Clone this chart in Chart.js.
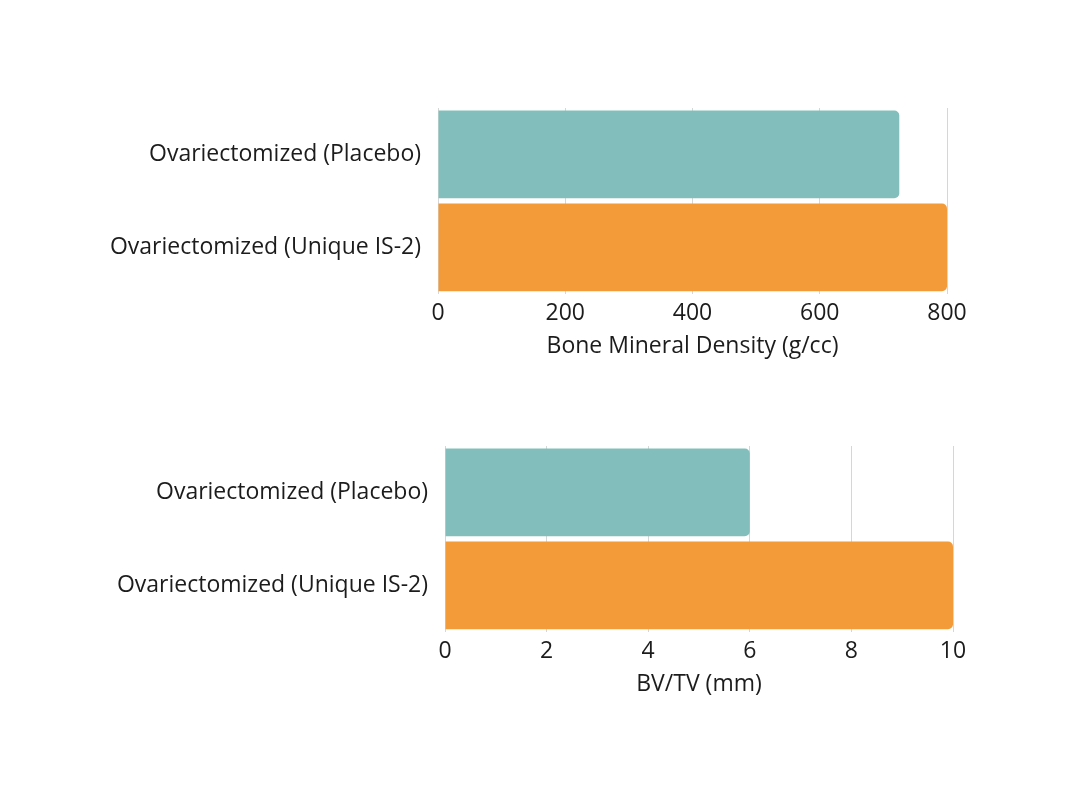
<!DOCTYPE html>
<html lang="en">
<head>
  <meta charset="UTF-8">
  <script src="https://cdn.jsdelivr.net/npm/chart.js"></script>
  <title>Bone charts</title>
  <style>
    body { margin: 0; background: #fff; }
    #main { position: relative; width: 1080px; height: 810px; }
    .wrap { position: absolute; left: 0; width: 1080px; height: 370px; }
    #wrap1 { top: 0; }
    #wrap2 { top: 338px; }
  </style>
</head>
<body>
  <div id="main">
    <div class="wrap" id="wrap1"><canvas id="bmdChart"></canvas></div>
    <div class="wrap" id="wrap2"><canvas id="bvChart"></canvas></div>
  </div>
  <script>
    // data
    const groups = ['Ovariectomized (Placebo)', 'Ovariectomized (Unique IS-2)'];
    const bmdValues = [725, 800];
    const bvtvValues = [6, 10];
    const barColors = ['#82bfbc', '#f29b38'];
    const bmdTitle = 'Bone Mineral Density (g/cc)';
    const bvtvTitle = 'BV/TV (mm)';

    const txt = '#1c1c1c';
    const fam = '"Open Sans", sans-serif';

    function makeChart(id, values, xMax, step, title, leftEdge, rightPad) {
      new Chart(document.getElementById(id), {
        type: 'bar',
        data: {
          labels: groups,
          datasets: [{
            data: values,
            backgroundColor: barColors,
            borderRadius: 5,
            borderSkipped: 'start',
            barPercentage: 0.944,
            categoryPercentage: 1
          }]
        },
        options: {
          indexAxis: 'y',
          responsive: true,
          maintainAspectRatio: false,
          animation: false,
          layout: { padding: { top: 108, bottom: 10, left: 0, right: rightPad } },
          plugins: { legend: { display: false }, tooltip: { enabled: false } },
          scales: {
            x: {
              min: 0,
              max: xMax,
              ticks: { stepSize: step, padding: 6, color: txt, font: { family: fam, size: 23 } },
              grid: { color: '#d6d6d6', drawTicks: false },
              border: { display: false },
              title: {
                display: true,
                text: title,
                color: txt,
                padding: { top: -1, bottom: 0 },
                font: { family: fam, size: 23 }
              }
            },
            y: {
              ticks: { padding: 17, color: txt, font: { family: fam, size: 23 } },
              grid: { display: false, drawTicks: false },
              border: { display: false },
              afterFit: function (axis) { axis.width = leftEdge; }
            }
          }
        }
      });
    }

    makeChart('bmdChart', bmdValues, 800, 200, bmdTitle, 438, 133);
    makeChart('bvChart', bvtvValues, 10, 2, bvtvTitle, 445, 127);
  </script>
</body>
</html>
